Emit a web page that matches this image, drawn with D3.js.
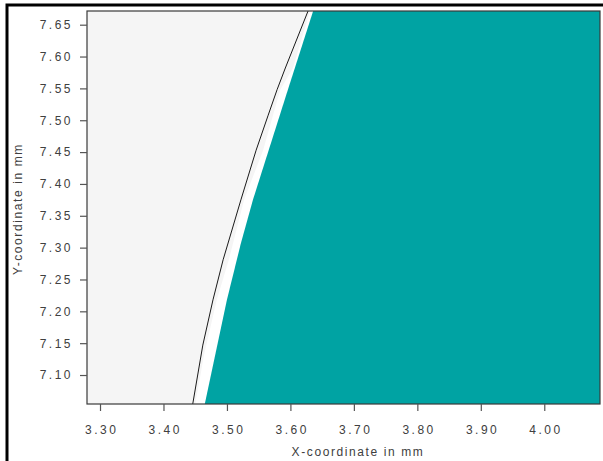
<!DOCTYPE html>
<html>
<head>
<meta charset="utf-8">
<script src="https://cdn.jsdelivr.net/npm/d3@7"></script>
<style>
  html, body { margin: 0; padding: 0; background: #fff; }
  svg { display: block; font-family: Arial, "Liberation Sans", sans-serif; }
</style>
</head>
<body>
<div id="chart"></div>
<script>
// axis ticks
const X_TICKS = [3.30, 3.40, 3.50, 3.60, 3.70, 3.80, 3.90, 4.00];
const Y_TICKS = [7.10, 7.15, 7.20, 7.25, 7.30, 7.35, 7.40, 7.45, 7.50, 7.55, 7.60, 7.65];
const X_DOMAIN = [3.2795, 4.0878];
const Y_DOMAIN = [7.0545, 7.6715];

// left edge of the teal region (x, y in mm)
const tealEdgeX = [3.636, 3.596, 3.541, 3.522, 3.500, 3.465];
const tealEdgeY = [7.672, 7.548, 7.375, 7.307, 7.218, 7.054];

// left edge of the white band next to it
const bandEdgeX = [3.631, 3.604, 3.584, 3.557, 3.527, 3.503, 3.484, 3.464, 3.450];
const bandEdgeY = [7.672, 7.582, 7.548, 7.453, 7.375, 7.281, 7.218, 7.132, 7.054];

// thin black contour line
const lineX = [3.628, 3.592, 3.579, 3.565, 3.546, 3.522, 3.494, 3.478, 3.462, 3.446];
const lineY = [7.672, 7.582, 7.548, 7.508, 7.453, 7.375, 7.281, 7.218, 7.147, 7.054];

const W = 603, H = 461;
const m = { left: 87, top: 11, right: 600, bottom: 404 };

const svg = d3.select("#chart").append("svg")
    .attr("width", W)
    .attr("height", H);

const x = d3.scaleLinear().domain(X_DOMAIN).range([m.left, m.right]);
const y = d3.scaleLinear().domain(Y_DOMAIN).range([m.bottom, m.top]);

// outer frame (only left + top visible)
svg.append("path")
    .attr("d", `M7,${H} L7,5 L${W},5`)
    .attr("fill", "none")
    .attr("stroke", "#000")
    .attr("stroke-width", 3);

svg.append("clipPath").attr("id", "plot-clip")
  .append("rect")
    .attr("x", m.left).attr("y", m.top)
    .attr("width", m.right - m.left).attr("height", m.bottom - m.top);

const plot = svg.append("g").attr("clip-path", "url(#plot-clip)");

plot.append("rect")
    .attr("x", m.left).attr("y", m.top)
    .attr("width", m.right - m.left).attr("height", m.bottom - m.top)
    .attr("fill", "#f5f5f5");

// white band: from band edge to the right side
const bandPts = bandEdgeX.map((v, i) => [v, bandEdgeY[i]]);
bandPts.push([X_DOMAIN[1], Y_DOMAIN[0]], [X_DOMAIN[1], Y_DOMAIN[1]]);
plot.append("path")
    .attr("d", d3.line().x(d => x(d[0])).y(d => y(d[1]))(bandPts) + "Z")
    .attr("fill", "#ffffff");

// teal region
const tealPts = tealEdgeX.map((v, i) => [v, tealEdgeY[i]]);
tealPts.push([X_DOMAIN[1], Y_DOMAIN[0]], [X_DOMAIN[1], Y_DOMAIN[1]]);
plot.append("path")
    .attr("d", d3.line().x(d => x(d[0])).y(d => y(d[1]))(tealPts) + "Z")
    .attr("fill", "#00a3a3");

// black contour
plot.append("path")
    .datum(lineX.map((v, i) => [v, lineY[i]]))
    .attr("d", d3.line().x(d => x(d[0])).y(d => y(d[1])))
    .attr("fill", "none")
    .attr("stroke", "#1a1a1a")
    .attr("stroke-width", 1);

// plot frame
svg.append("rect")
    .attr("x", m.left).attr("y", m.top)
    .attr("width", m.right - m.left).attr("height", m.bottom - m.top)
    .attr("fill", "none")
    .attr("stroke", "#3a3a3a")
    .attr("stroke-width", 1.2);

// axes
const xAxis = d3.axisBottom(x).tickValues(X_TICKS).tickSize(7).tickPadding(14)
    .tickFormat(d3.format(".2f"));
const yAxis = d3.axisLeft(y).tickValues(Y_TICKS).tickSize(7).tickPadding(8)
    .tickFormat(d3.format(".2f"));

const gx = svg.append("g").attr("transform", `translate(0,${m.bottom})`).call(xAxis);
const gy = svg.append("g").attr("transform", `translate(${m.left},0)`).call(yAxis);

[gx, gy].forEach(g => {
    g.select(".domain").remove();
    g.selectAll(".tick line").attr("stroke", "#555").attr("stroke-width", 1.2);
    g.selectAll(".tick text")
        .attr("fill", "#404040")
        .style("font-size", "12px")
        .style("letter-spacing", "2.5px");
});
// compensate trailing letter-spacing
gx.selectAll(".tick text").attr("dx", "1.25px");
gy.selectAll(".tick text").attr("dx", "1px");

// axis titles
svg.append("text")
    .attr("x", 358).attr("y", 456)
    .attr("text-anchor", "middle")
    .attr("fill", "#404040")
    .style("font-size", "12px")
    .style("letter-spacing", "1.6px")
    .text("X-coordinate in mm");

svg.append("text")
    .attr("transform", "translate(22,209) rotate(-90)")
    .attr("text-anchor", "middle")
    .attr("fill", "#404040")
    .style("font-size", "12px")
    .style("letter-spacing", "1.6px")
    .text("Y-coordinate in mm");
</script>
</body>
</html>
